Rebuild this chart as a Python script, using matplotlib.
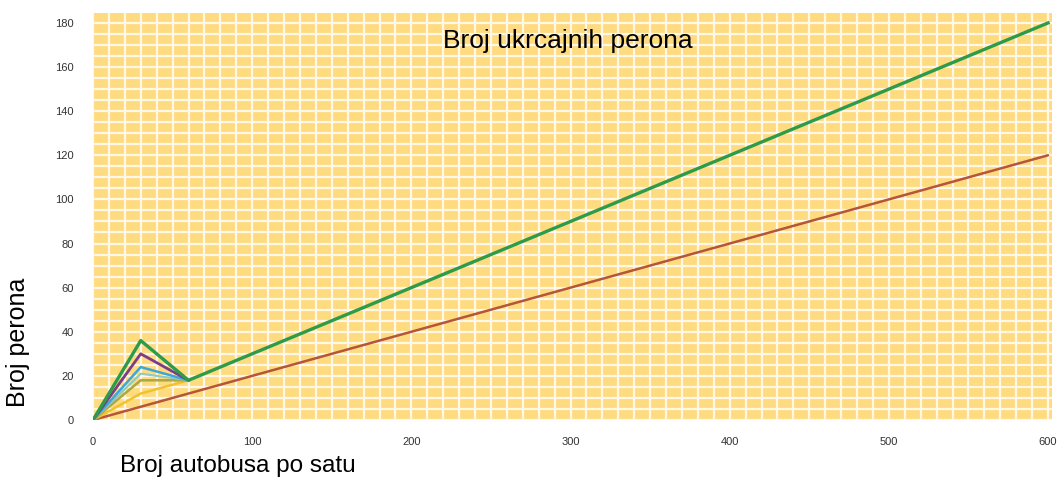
import matplotlib
matplotlib.use("Agg")
import matplotlib.pyplot as plt
import numpy as np

plt.rcParams['font.family'] = ['Liberation Sans', 'DejaVu Sans']

# Data
x_short = [0, 30, 60]
green_x = [0, 30, 60, 600]
green_y = [0, 36, 18, 180]
purple_y = [0, 30, 18]
blue_y = [0, 24, 18]
teal_y = [0, 21, 18]
olive_y = [0, 18, 18]
yellow_y = [0, 12, 18]
brown_x = [0, 600]
brown_y = [0, 120]

x_ticks = [0, 100, 200, 300, 400, 500, 600]
y_ticks = [0, 20, 40, 60, 80, 100, 120, 140, 160, 180]

fig = plt.figure(figsize=(10.61, 4.90), dpi=100)
ax = fig.add_axes([93/1061, 1 - 420/490, (1052 - 93)/1061, (420 - 13)/490])
ax.set_facecolor('#FFDB80')
ax.set_xlim(0, 602.5)
ax.set_ylim(0, 184.5)

ax.set_xticks(np.arange(0, 601, 10), minor=True)
ax.set_yticks(np.arange(0, 185, 5), minor=True)
ax.grid(which='both', color='#FFF8E8', linewidth=1.6)
ax.set_axisbelow(True)
for s in ax.spines.values():
    s.set_visible(False)
ax.tick_params(which='both', length=0)

ax.set_xticks(x_ticks)
ax.set_xticklabels([str(v) for v in x_ticks], fontsize=8, color='#333333')
ax.set_yticks(y_ticks)
ax.set_yticklabels([str(v) for v in y_ticks], fontsize=8, color='#333333')
ax.tick_params(axis='y', pad=14)
ax.tick_params(axis='x', pad=12)

ax.plot(brown_x, brown_y, color='#B5553A', lw=1.8, solid_capstyle='round')
ax.plot(x_short, yellow_y, color='#F2C12E', lw=1.8)
ax.plot(x_short, olive_y, color='#A9A843', lw=1.8)
ax.plot(x_short, teal_y, color='#8FC9C0', lw=1.5)
ax.plot(x_short, blue_y, color='#3FA7D6', lw=1.8)
ax.plot(x_short, purple_y, color='#7A3E86', lw=2.0)
ax.plot(green_x, green_y, color='#2E9B4A', lw=2.4)

ax.text(298, 172, 'Broj ukrcajnih perona', fontsize=19, ha='center', va='center', color='black')

fig.text(120/1061, 1 - 466/490, 'Broj autobusa po satu', fontsize=17.5, ha='left', va='center')
fig.text(18/1061, 1 - 342/490, 'Broj perona', fontsize=18, ha='center', va='center', rotation=90)

fig.savefig('out.png', dpi=100, facecolor='white')
